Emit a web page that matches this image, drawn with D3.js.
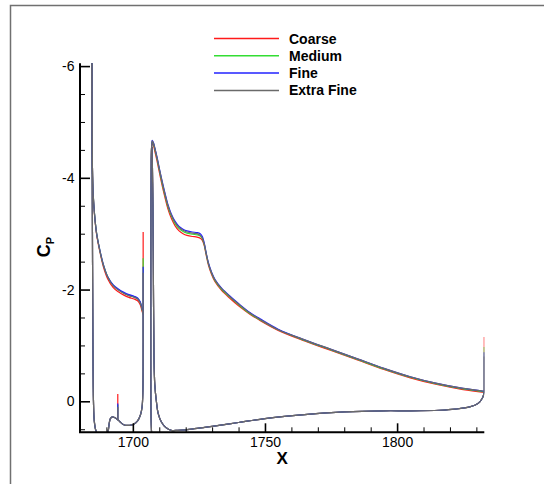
<!DOCTYPE html>
<html>
<head>
<meta charset="utf-8">
<script src="https://cdn.jsdelivr.net/npm/d3@7"></script>
<style>
  body { margin: 0; background: #fff; }
  svg { display: block; font-family: "Liberation Sans", Arial, sans-serif; }
</style>
</head>
<body>
<div id="chart"></div>
<script>
// grid levels, drawn in this order (Extra Fine on top)
const seriesNames = ["Coarse", "Medium", "Fine", "Extra Fine"];
const seriesColors = ["#ff1a1a", "#33dd33", "#2222ff", "#6a6a6a"];

// slat upper surface, trailing edge -> leading edge
const slatUpperX = [1703.9, 1703.4, 1702.8, 1701.8, 1700.5, 1698.5, 1696.6, 1694.5, 1692.5, 1690.5,
                    1688.9, 1687.5, 1686.3, 1685.5, 1685.0, 1684.7, 1684.55, 1684.5];
const slatUpperCpCoarse = [-1.55, -1.63, -1.73, -1.80, -1.83, -1.86, -1.90, -1.96, -2.04, -2.19,
                           -2.40, -2.68, -2.98, -3.33, -3.69, -4.20, -5.00, -6.10];
const slatUpperCpMedium = [-1.57, -1.67, -1.77, -1.84, -1.87, -1.90, -1.94, -2.00, -2.08, -2.23,
                           -2.43, -2.70, -3.00, -3.35, -3.70, -4.20, -5.00, -6.10];
const slatUpperCpFine = [-1.58, -1.68, -1.78, -1.85, -1.88, -1.91, -1.95, -2.01, -2.09, -2.23,
                         -2.44, -2.71, -3.00, -3.35, -3.70, -4.20, -5.00, -6.10];
const slatUpperCpExtraFine = [-1.57, -1.66, -1.76, -1.83, -1.86, -1.89, -1.93, -1.99, -2.07, -2.22,
                              -2.43, -2.70, -3.00, -3.35, -3.70, -4.20, -5.00, -6.10];

// slat lower surface + cove, leading edge -> trailing edge (same on all grids)
const slatLowerX = [1684.5, 1684.6, 1684.75, 1684.9, 1685.1, 1685.4, 1686.0, 1687.0, 1688.3, 1689.5,
                    1690.6, 1691.1, 1691.5, 1692.2, 1693.0, 1693.7, 1694.3, 1695.2, 1696.2, 1697.3,
                    1698.8, 1700.3, 1701.8, 1702.9, 1703.5, 1703.8, 1703.9, 1703.9];
const slatLowerCp = [-6.10, -4.5, -2.5, -1.0, 0.0, 0.35, 0.52, 0.6, 0.66, 0.68,
                     0.55, 0.38, 0.31, 0.28, 0.29, 0.31, 0.33, 0.37, 0.41, 0.43,
                     0.43, 0.41, 0.35, 0.24, 0.10, -0.2, -0.8, -1.57];

// main element upper surface, stagnation -> trailing edge
const mainUpperX = [1707.2, 1706.9, 1706.8, 1706.8, 1706.85, 1706.95, 1707.1, 1707.35, 1707.8, 1708.3,
                    1709.2, 1710.2, 1711.2, 1712.1, 1713.3, 1714.6, 1716.0, 1717.5, 1719.0, 1720.5,
                    1722.5, 1724.3, 1725.5, 1726.3, 1727.0, 1727.7, 1728.6, 1729.8, 1731.1, 1733.5,
                    1736.8, 1740.0, 1744.3, 1748.0, 1755.0, 1765.0, 1775.0, 1785.0, 1795.0, 1805.0,
                    1815.0, 1825.0, 1833.0];
const mainUpperCpCoarse = [0.7, 0.3, -0.5, -2.0, -3.5, -4.3, -4.54, -4.62, -4.58, -4.48,
                           -4.29, -4.06, -3.84, -3.66, -3.44, -3.27, -3.14, -3.05, -3.00, -2.97,
                           -2.95, -2.94, -2.92, -2.88, -2.79, -2.63, -2.44, -2.27, -2.14, -1.99,
                           -1.84, -1.71, -1.56, -1.45, -1.27, -1.08, -0.91, -0.74, -0.57, -0.42,
                           -0.30, -0.21, -0.16];
const mainUpperCpMedium = [0.7, 0.3, -0.5, -2.0, -3.5, -4.3, -4.55, -4.65, -4.61, -4.52,
                           -4.33, -4.10, -3.88, -3.70, -3.48, -3.31, -3.18, -3.09, -3.04, -3.01,
                           -2.99, -2.98, -2.96, -2.91, -2.81, -2.65, -2.46, -2.29, -2.16, -2.01,
                           -1.86, -1.73, -1.57, -1.46, -1.28, -1.09, -0.92, -0.75, -0.58, -0.43,
                           -0.31, -0.22, -0.17];
const mainUpperCpFine = [0.7, 0.3, -0.5, -2.0, -3.5, -4.3, -4.56, -4.67, -4.63, -4.54,
                         -4.36, -4.13, -3.92, -3.74, -3.52, -3.35, -3.22, -3.13, -3.08, -3.05,
                         -3.03, -3.02, -3.00, -2.95, -2.84, -2.67, -2.48, -2.31, -2.18, -2.03,
                         -1.88, -1.75, -1.59, -1.48, -1.29, -1.10, -0.93, -0.76, -0.59, -0.44,
                         -0.32, -0.23, -0.18];
const mainUpperCpExtraFine = [0.7, 0.3, -0.5, -2.0, -3.5, -4.3, -4.55, -4.66, -4.62, -4.53,
                              -4.35, -4.12, -3.90, -3.72, -3.50, -3.33, -3.20, -3.11, -3.06, -3.03,
                              -3.01, -3.00, -2.97, -2.92, -2.82, -2.66, -2.47, -2.30, -2.17, -2.02,
                              -1.87, -1.74, -1.58, -1.47, -1.28, -1.10, -0.93, -0.76, -0.59, -0.44,
                              -0.32, -0.23, -0.18];

// main element lower surface, leading edge -> trailing edge (same on all grids)
const mainLowerX = [1707.3, 1707.6, 1707.8, 1708.0, 1708.3, 1708.9, 1709.6, 1710.8, 1712.5, 1714.5,
                    1717.0, 1720.0, 1725.0, 1730.0, 1740.0, 1750.0, 1765.0, 1780.0, 1795.0, 1805.0,
                    1816.0, 1822.0, 1827.5, 1830.6, 1832.3, 1833.0];
const mainLowerCp = [-4.55, -3.5, -2.0, -0.8, -0.3, 0.0, 0.22, 0.37, 0.47, 0.52,
                     0.52, 0.51, 0.48, 0.45, 0.38, 0.31, 0.24, 0.19, 0.17, 0.17,
                     0.16, 0.14, 0.10, 0.04, -0.06, -0.17];

// single-point spikes (x, base Cp, top Cp per grid)
const spikeX = [1694.3, 1703.9, 1833.0];
const spikeBase = [0.33, -1.57, -0.17];
const spikeTopCoarse = [-0.13, -3.03, -1.15];
const spikeTopMedium = [0.06, -2.56, -0.97];
const spikeTopFine = [0.04, -2.41, -0.88];
const spikeTopExtraFine = [0.10, -2.30, -0.80];

const xMajorTicks = [1700, 1750, 1800];
const yMajorTicks = [-6, -4, -2, 0];

const slatUpperBySeries = [slatUpperCpCoarse, slatUpperCpMedium, slatUpperCpFine, slatUpperCpExtraFine];
const mainUpperBySeries = [mainUpperCpCoarse, mainUpperCpMedium, mainUpperCpFine, mainUpperCpExtraFine];
const spikeTopBySeries = [spikeTopCoarse, spikeTopMedium, spikeTopFine, spikeTopExtraFine];

const W = 544, H = 484;
const plot = { left: 80, right: 484.3, top: 63.3, bottom: 432.3 };

const svg = d3.select("#chart").append("svg")
  .attr("width", W).attr("height", H);

// outer frame (left + top edges only are in view)
svg.append("path")
  .attr("d", `M10.5,${H} L10.5,5.5 L${W},5.5`)
  .attr("fill", "none").attr("stroke", "#707070").attr("stroke-width", 1.5);

const x = d3.scaleLinear().domain([1680, 1833]).range([plot.left, plot.right]);
const y = d3.scaleLinear().domain([-6.05, 0.555]).range([plot.top, plot.bottom]);

svg.append("clipPath").attr("id", "clip")
  .append("rect")
  .attr("x", plot.left).attr("y", plot.top)
  .attr("width", plot.right - plot.left).attr("height", plot.bottom - plot.top);

const zip = (xs, ys) => xs.map((v, i) => [v, ys[i]]);
const line = d3.line()
  .x(d => x(d[0])).y(d => y(d[1]))
  .curve(d3.curveCatmullRom.alpha(0.5));

const curves = svg.append("g").attr("clip-path", "url(#clip)");

seriesNames.forEach((name, s) => {
  const g = curves.append("g")
    .attr("fill", "none")
    .attr("stroke", seriesColors[s])
    .attr("stroke-width", 1.2)
    .attr("stroke-linejoin", "round");
  g.append("path").attr("d", line(zip(slatUpperX, slatUpperBySeries[s])));
  g.append("path").attr("d", line(zip(slatLowerX, slatLowerCp)));
  g.append("path").attr("d", line(zip(mainUpperX, mainUpperBySeries[s])));
  g.append("path").attr("d", line(zip(mainLowerX, mainLowerCp)));
  spikeX.forEach((sx, k) => {
    g.append("line")
      .attr("x1", x(sx)).attr("x2", x(sx))
      .attr("y1", y(spikeBase[k])).attr("y2", y(spikeTopBySeries[s][k]));
  });
});

// axes: ticks point inward
const xAxis = d3.axisBottom(x)
  .tickValues(xMajorTicks).tickSize(-9).tickPadding(5)
  .tickFormat(d => String(d));
const xMinor = d3.axisBottom(x)
  .tickValues(d3.range(1690, 1831, 10).filter(v => !xMajorTicks.includes(v)))
  .tickSize(-5).tickFormat("");
const yAxis = d3.axisLeft(y)
  .tickValues(yMajorTicks).tickSize(-10).tickPadding(5.5)
  .tickFormat(d => String(d));
const yMinor = d3.axisLeft(y)
  .tickValues(d3.range(-6, 0.6, 0.5).filter(v => !yMajorTicks.includes(v)))
  .tickSize(-5).tickFormat("");

function styleAxis(g, major) {
  g.select(".domain").remove();
  g.selectAll(".tick line").attr("stroke", "#000").attr("stroke-width", major ? 1.6 : 1);
  g.selectAll(".tick text")
    .attr("fill", "#000").attr("font-size", 14)
    .attr("font-family", "'Liberation Sans', Arial, sans-serif");
}

svg.append("g").attr("transform", `translate(0,${plot.bottom})`).call(xMinor).call(g => styleAxis(g, false));
svg.append("g").attr("transform", `translate(0,${plot.bottom})`).call(xAxis).call(g => styleAxis(g, true));
svg.append("g").attr("transform", `translate(${plot.left},0)`).call(yMinor).call(g => styleAxis(g, false));
svg.append("g").attr("transform", `translate(${plot.left},0)`).call(yAxis).call(g => styleAxis(g, true));

// axis lines
svg.append("path")
  .attr("d", `M${plot.left},${plot.top} L${plot.left},${plot.bottom} L${plot.right},${plot.bottom}`)
  .attr("fill", "none").attr("stroke", "#000").attr("stroke-width", 2);

// axis titles
svg.append("text")
  .attr("x", (plot.left + plot.right) / 2).attr("y", 464)
  .attr("text-anchor", "middle")
  .attr("font-size", 17).attr("font-weight", "bold")
  .text("X");

const yTitle = svg.append("text")
  .attr("transform", "translate(50,247) rotate(-90)")
  .attr("text-anchor", "middle")
  .attr("font-weight", "bold");
yTitle.append("tspan").attr("font-size", 18).text("C");
yTitle.append("tspan").attr("font-size", 11).attr("dy", 4).text("P");

// legend
const legend = svg.append("g");
seriesNames.forEach((name, s) => {
  const ly = 38.5 + s * 17.3;
  legend.append("line")
    .attr("x1", 214).attr("x2", 279).attr("y1", ly).attr("y2", ly)
    .attr("stroke", seriesColors[s]).attr("stroke-width", 1.5);
  legend.append("text")
    .attr("x", 289).attr("y", ly + 5)
    .attr("font-size", 14).attr("font-weight", "bold")
    .text(name);
});
</script>
</body>
</html>
